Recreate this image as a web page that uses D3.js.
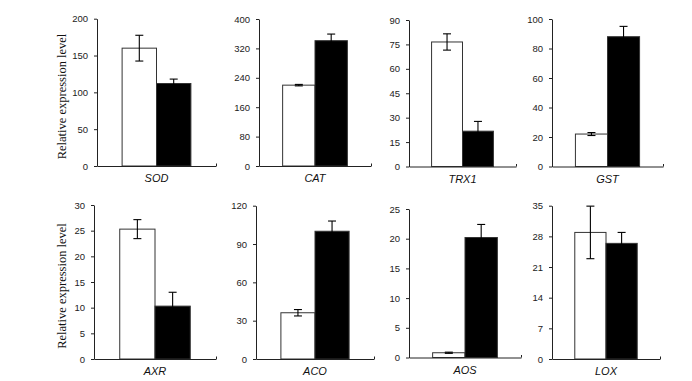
<!DOCTYPE html>
<html>
<head>
<meta charset="utf-8">
<script src="https://cdn.jsdelivr.net/npm/d3@7"></script>
<style>
  html, body { margin: 0; padding: 0; background: #fff; }
  svg { display: block; }
</style>
</head>
<body>
<svg id="chart" width="692" height="381"></svg>
<script>
// ---- data ----
const genes = ["SOD", "CAT", "TRX1", "GST", "AXR", "ACO", "AOS", "LOX"];
const series = ["control", "treated"];
const controlValues = [160, 220, 76.5, 22, 25.3, 36.2, 0.8, 28.9];
const controlErrors = [17.5, 2, 5, 1, 1.85, 2.5, 0.1, 6];
const treatedValues = [112, 341, 21.7, 88, 10.3, 100, 20.2, 26.4];
const treatedErrors = [6, 18, 6, 7, 2.7, 8, 2.2, 2.5];
const yMax = [200, 400, 90, 100, 30, 120, 25, 35];
const yTickValues = [
  [0, 50, 100, 150, 200],
  [0, 80, 160, 240, 320, 400],
  [0, 15, 30, 45, 60, 75, 90],
  [0, 20, 40, 60, 80, 100],
  [0, 5, 10, 15, 20, 25, 30],
  [0, 30, 60, 90, 120],
  [0, 5, 10, 15, 20, 25],
  [0, 7, 14, 21, 28, 35]
];
const yTitle = "Relative expression level";

// ---- layout (axis frames) ----
const frames = [
  { x0: 97,  x1: 216, yb: 166,   yt: 18.7 },
  { x0: 259, x1: 371, yb: 166,   yt: 19 },
  { x0: 409, x1: 516, yb: 166.5, yt: 20 },
  { x0: 552, x1: 663, yb: 166.5, yt: 19 },
  { x0: 94,  x1: 216, yb: 359,   yt: 205 },
  { x0: 256, x1: 374, yb: 359,   yt: 205.7 },
  { x0: 409, x1: 521, yb: 357.5, yt: 209 },
  { x0: 552, x1: 660, yb: 359,   yt: 205.7 }
];

const svg = d3.select("#chart");
const axisColor = "#222";

genes.forEach((g, i) => {
  const f = frames[i];
  const x = d3.scaleBand().domain(series).range([f.x0, f.x1]).paddingInner(0).paddingOuter(0.73);
  const y = d3.scaleLinear().domain([0, yMax[i]]).range([f.yb, f.yt]);
  const gp = svg.append("g");

  const rows = [
    { s: "control", v: controlValues[i], e: controlErrors[i], fill: "#fff" },
    { s: "treated", v: treatedValues[i], e: treatedErrors[i], fill: "#000" }
  ];

  // bars
  gp.selectAll("rect.bar").data(rows).enter().append("rect")
    .attr("class", "bar")
    .attr("x", d => x(d.s))
    .attr("width", x.bandwidth())
    .attr("y", d => y(d.v))
    .attr("height", d => y(0) - y(d.v))
    .attr("fill", d => d.fill)
    .attr("stroke", "#333")
    .attr("stroke-width", 1);

  // error bars
  const cap = 4;
  rows.forEach(d => {
    const cx = x(d.s) + x.bandwidth() / 2;
    const eg = gp.append("g").attr("stroke", "#000").attr("stroke-width", 1.1);
    eg.append("line").attr("x1", cx).attr("x2", cx).attr("y1", y(d.v + d.e)).attr("y2", y(d.v - d.e));
    eg.append("line").attr("x1", cx - cap).attr("x2", cx + cap).attr("y1", y(d.v + d.e)).attr("y2", y(d.v + d.e));
    eg.append("line").attr("x1", cx - cap).attr("x2", cx + cap).attr("y1", y(d.v - d.e)).attr("y2", y(d.v - d.e));
  });

  // y axis
  const ya = gp.append("g")
    .attr("transform", `translate(${f.x0},0)`)
    .call(d3.axisLeft(y).tickValues(yTickValues[i]).tickSize(3).tickPadding(6).tickSizeOuter(0));
  ya.select(".domain").attr("stroke", axisColor);
  ya.selectAll(".tick line").attr("stroke", axisColor);
  ya.selectAll(".tick text")
    .attr("font-family", "'Liberation Sans', Arial, sans-serif")
    .attr("font-size", "9.5px")
    .attr("fill", "#222");

  // x axis
  const xa = gp.append("g")
    .attr("transform", `translate(0,${f.yb})`)
    .call(d3.axisBottom(d3.scaleLinear().domain([0, 1]).range([f.x0, f.x1])).tickValues([1]).tickSize(-2.5).tickFormat("").tickSizeOuter(0));
  xa.select(".domain").attr("stroke", axisColor);
  xa.selectAll(".tick line").attr("stroke", axisColor);

  // category label
  gp.append("text")
    .attr("x", (f.x0 + f.x1) / 2)
    .attr("y", f.yb + 16)
    .attr("text-anchor", "middle")
    .attr("font-family", "'Liberation Sans', Arial, sans-serif")
    .attr("font-style", "italic")
    .attr("font-size", "11px")
    .attr("fill", "#111")
    .text(g);
});

// y titles
[96.5, 286].forEach(cy => {
  svg.append("text")
    .attr("transform", `translate(66,${cy}) rotate(-90)`)
    .attr("text-anchor", "middle")
    .attr("font-family", "'Liberation Serif', 'Times New Roman', serif")
    .attr("font-size", "12.5px")
    .attr("fill", "#111")
    .text(yTitle);
});
</script>
</body>
</html>
